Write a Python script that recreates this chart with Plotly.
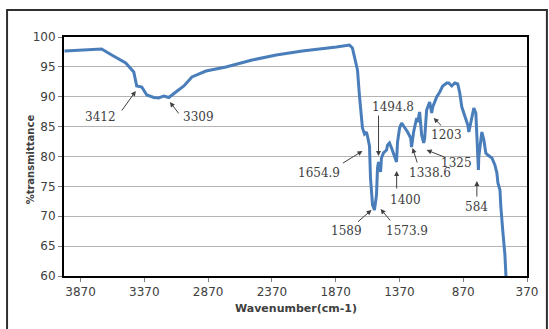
import plotly.graph_objects as go

# Spectrum
wavenumber = [3996, 3886, 3705, 3626, 3516, 3453, 3437, 3430, 3390, 3351, 3296, 3257, 3217, 3178, 3123,
              3060, 2997, 2887, 2730, 2525, 2336, 2132, 1864, 1762, 1739, 1715, 1699, 1684, 1668, 1660,
              1644, 1629, 1621, 1613, 1605, 1597, 1581, 1566, 1550, 1542, 1534, 1518, 1511, 1495, 1471,
              1463, 1448, 1432, 1416, 1393, 1385, 1369, 1353, 1330, 1306, 1282, 1275, 1259, 1235, 1227,
              1212, 1196, 1180, 1172, 1157, 1133, 1117, 1109, 1094, 1078, 1054, 1031, 999, 984, 960,
              936, 913, 897, 881, 858, 834, 826, 803, 787, 771, 763, 755, 751, 748, 732,
              724, 708, 693, 677, 645, 622, 606, 598, 582, 575, 567, 559, 543, 535]
transmittance = [97.66, 97.74, 97.99, 96.99, 95.65, 94.14, 92.80, 91.80, 91.63, 90.29, 89.87, 89.79, 90.13, 89.87, 90.79,
                 91.80, 93.31, 94.31, 94.98, 96.15, 96.99, 97.66, 98.33, 98.66, 98.16, 96.15, 94.48, 90.29, 86.44, 84.77,
                 83.77, 84.10, 83.43, 82.76, 81.76, 76.40, 71.88, 71.05, 73.56, 78.08, 79.08, 77.41, 79.75, 80.59, 81.09,
                 81.92, 82.26, 81.42, 80.59, 79.08, 82.43, 84.77, 85.61, 84.94, 84.10, 83.10, 81.59, 84.10, 86.44, 85.77,
                 87.45, 83.60, 82.26, 83.10, 87.78, 89.12, 87.28, 88.28, 89.12, 89.96, 90.79, 91.80, 92.30, 92.30, 91.80,
                 92.30, 92.13, 90.63, 88.28, 86.61, 85.27, 84.10, 86.61, 88.12, 87.28, 83.93, 81.09, 77.74, 79.92, 83.26,
                 84.10, 82.76, 80.59, 80.25, 79.75, 78.58, 77.24, 75.56, 74.39, 71.55, 68.54, 67.36, 63.51, 60.00]

x_ticks = [3870, 3370, 2870, 2370, 1870, 1370, 870, 370]
x_tick_labels = [str(v) for v in x_ticks]

# Peak labels: text, text position, arrow tail, arrow head (data coordinates)
peak_labels = ["3412", "3309", "1494.8", "1654.9", "1400", "1338.6", "1325", "1203", "584", "1589", "1573.9"]
label_x = [3713, 2942, 1424, 1998, 1322, 1133, 921, 999, 763, 1786, 1314]
label_y = [86.6, 86.6, 88.28, 77.24, 72.72, 77.24, 78.91, 83.6, 71.55, 67.6, 67.6]
tail_x = [3555, 3091, 1534, 1825, 1392, 1227, 999, 1031, 763, 1707, 1432]
tail_y = [87.45, 86.95, 87.11, 78.74, 74.39, 78.74, 79.75, 84.94, 73.05, 68.87, 69.04]
head_x = [3437, 3170, 1534, 1660, 1392, 1267, 1157, 1102, 763, 1589, 1518]
head_y = [90.96, 89.12, 80.08, 80.92, 77.57, 81.42, 81.09, 86.44, 75.9, 71.05, 71.21]

fig = go.Figure()
fig.add_trace(go.Scatter(x=wavenumber, y=transmittance, mode="lines",
                         line=dict(color="#4a7ebb", width=3), showlegend=False))

annotations = []
for t, lx, ly in zip(peak_labels, label_x, label_y):
    annotations.append(dict(x=lx, y=ly, xref="x", yref="y", text=t, showarrow=False,
                            font=dict(family="DejaVu Serif", size=12, color="#404040")))
for txx, tyy, hx, hy in zip(tail_x, tail_y, head_x, head_y):
    annotations.append(dict(x=hx, y=hy, xref="x", yref="y", ax=txx, ay=tyy, axref="x", ayref="y",
                            text="", showarrow=True, arrowhead=2, arrowsize=1, arrowwidth=1,
                            arrowcolor="#404040"))
annotations.append(dict(x=-0.0886, y=0.49, xref="paper", yref="paper", text="<b>%transmittance</b>",
                        showarrow=False, textangle=-90,
                        font=dict(family="DejaVu Sans", size=10, color="#404040")))
annotations.append(dict(x=0.501, y=-0.172, xref="paper", yref="paper", text="<b>Wavenumber(cm-1)</b>",
                        showarrow=False, font=dict(family="DejaVu Sans", size=11, color="#404040")))

fig.update_layout(
    width=549, height=329,
    margin=dict(l=64, r=22, t=37, b=53),
    paper_bgcolor="white", plot_bgcolor="white",
    annotations=annotations,
    shapes=[dict(type="rect", xref="paper", yref="paper",
                 x0=-0.123, x1=1.043, y0=-0.3, y1=1.113,
                 line=dict(color="#303030", width=2), fillcolor="rgba(0,0,0,0)", layer="below")],
)
fig.update_xaxes(range=[4000, 370], tickvals=x_ticks, ticktext=x_tick_labels,
                 ticks="outside", ticklen=4, tickcolor="#808080",
                 showgrid=False, zeroline=False,
                 showline=True, linecolor="black", linewidth=2, mirror=True,
                 tickfont=dict(family="DejaVu Sans", size=12, color="#404040"))
fig.update_yaxes(range=[60, 100], dtick=5, tick0=60,
                 ticks="outside", ticklen=4, tickcolor="#808080",
                 showgrid=True, gridcolor="#b4b4b4", gridwidth=1, zeroline=False,
                 showline=True, linecolor="black", linewidth=2, mirror=True,
                 tickfont=dict(family="DejaVu Sans", size=12, color="#404040"))

fig.write_html("out.html", config={"displayModeBar": False},
               post_script="document.body.style.margin='0';document.body.style.overflow='hidden';")
